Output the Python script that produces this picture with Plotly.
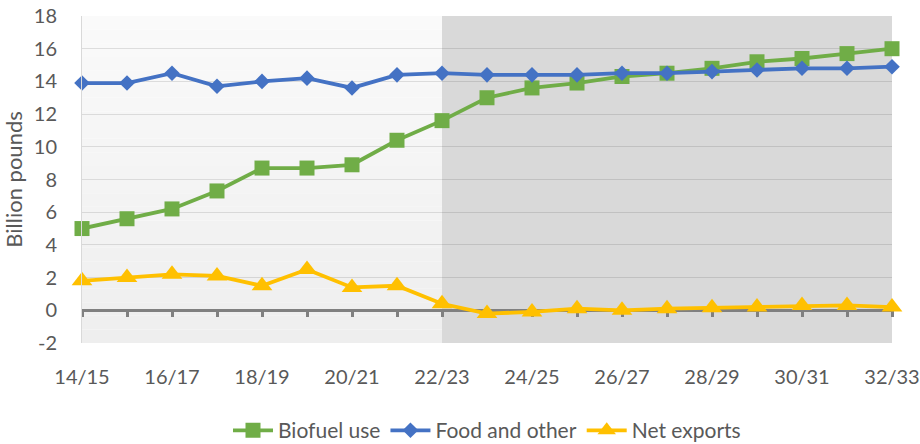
import plotly.graph_objects as go

# Marketing years and the three disposition series (billion pounds)
years = ["14/15", "15/16", "16/17", "17/18", "18/19", "19/20", "20/21", "21/22",
         "22/23", "23/24", "24/25", "25/26", "26/27", "27/28", "28/29", "29/30",
         "30/31", "31/32", "32/33"]
biofuel_use = [5.0, 5.6, 6.2, 7.3, 8.7, 8.7, 8.9, 10.4, 11.6, 13.0, 13.6, 13.9,
               14.3, 14.5, 14.8, 15.2, 15.4, 15.7, 16.0]
food_and_other = [13.9, 13.9, 14.5, 13.7, 14.0, 14.2, 13.6, 14.4, 14.5, 14.4,
                  14.4, 14.4, 14.5, 14.5, 14.6, 14.7, 14.8, 14.8, 14.9]
net_exports = [1.8, 2.0, 2.2, 2.1, 1.5, 2.5, 1.4, 1.5, 0.4, -0.2, -0.1, 0.1,
               0.0, 0.1, 0.15, 0.2, 0.3, 0.3, 0.2]
projection_start = "22/23"
y_ticks = list(range(-2, 19, 2))

FONT = "Lato"
TEXT = "#595959"
idx = list(range(len(years)))
proj_idx = years.index(projection_start)

fig = go.Figure()

series = [
    ("Biofuel use", biofuel_use, "#70ad47", "square", 15),
    ("Food and other", food_and_other, "#4472c4", "diamond", 12),
    ("Net exports", net_exports, "#ffc000", "triangle-up", 18),
]
for name, vals, color, symbol, size in series:
    fig.add_trace(go.Scatter(
        x=idx, y=vals, name=name, mode="lines+markers",
        line=dict(color=color, width=3.8),
        marker=dict(symbol=symbol, size=size, color=color, line=dict(width=0)),
        cliponaxis=False, xaxis="x", yaxis="y",
    ))

# helper trace so the label axis gets its own overlay subplot
fig.add_trace(go.Scatter(x=[], y=[], xaxis="x2", yaxis="y", showlegend=False,
                         hoverinfo="skip"))

# historical period background: soft vertical gradient
n_bands = 24
top_c, bot_c = 250, 238
for i in range(n_bands):
    c = round(bot_c + (top_c - bot_c) * (i + 0.5) / n_bands)
    fig.add_shape(type="rect", xref="x", yref="y domain",
                  x0=0, x1=proj_idx, y0=i / n_bands, y1=(i + 1) / n_bands,
                  fillcolor=f"rgb({c},{c},{c})", line_width=0, layer="below")
# projection period shading
fig.add_shape(type="rect", xref="x", yref="y domain",
              x0=proj_idx, x1=len(years) - 1, y0=0, y1=1,
              fillcolor="#d9d9d9", line_width=0, layer="below")

zero_pos = (0 - y_ticks[0]) / (y_ticks[-1] - y_ticks[0])

fig.update_layout(
    template="none",
    width=920, height=444,
    margin=dict(l=82, r=28, t=16, b=101, autoexpand=False),
    paper_bgcolor="white", plot_bgcolor="rgba(0,0,0,0)",
    font=dict(family=FONT, size=20, color=TEXT),
    showlegend=True,
    legend=dict(orientation="h", x=0.5, xanchor="center", y=-0.268,
                yanchor="middle", font=dict(family=FONT, size=21, color=TEXT),
                bgcolor="rgba(0,0,0,0)", itemwidth=40),
    # category axis sitting on the zero line, tick marks only
    xaxis=dict(range=[0, len(years) - 1], anchor="free", position=zero_pos,
               tickmode="linear", tick0=0, dtick=1, showticklabels=False,
               ticks="outside", ticklen=6, tickwidth=3, tickcolor="#808080",
               showline=False, showgrid=False, zeroline=False,
               layer="below traces", automargin=False),
    # label axis along the bottom
    xaxis2=dict(range=[0, len(years) - 1], overlaying="x", anchor="y",
                side="bottom", tickmode="array", tickvals=idx[::2],
                ticktext=years[::2], ticks="", showline=False, showgrid=False,
                zeroline=False, ticklabelstandoff=20, automargin=False,
                tickfont=dict(family=FONT, size=20, color=TEXT)),
    yaxis=dict(range=[y_ticks[0], y_ticks[-1]], tickmode="array",
               tickvals=y_ticks, ticktext=[str(v) for v in y_ticks],
               showgrid=True, gridcolor="rgba(0,0,0,0.11)", gridwidth=1.3,
               zeroline=True, zerolinecolor="#808080", zerolinewidth=3,
               showline=True, linecolor="#d9d9d9", linewidth=1,
               ticks="", ticklabelstandoff=20, automargin=False,
               tickfont=dict(family=FONT, size=20, color=TEXT),
               title=dict(text="Billion pounds", standoff=6,
                          font=dict(family=FONT, size=22, color=TEXT))),
)

fig.write_html("out.html")
